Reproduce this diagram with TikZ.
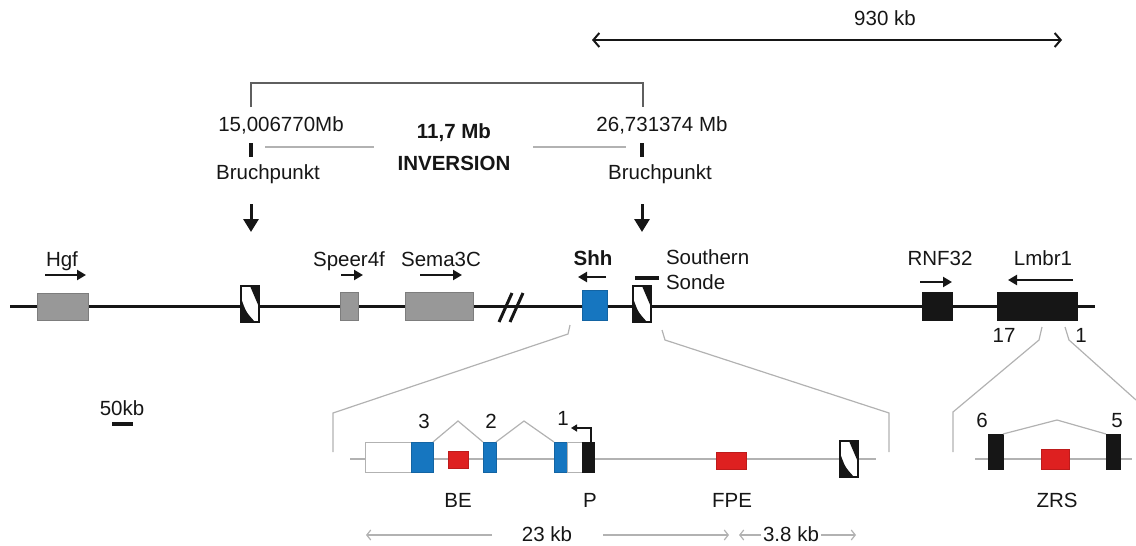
\documentclass[tikz,border=0pt]{standalone}
\usepackage{fontspec}
\setmainfont{Liberation Sans}
\usetikzlibrary{arrows.meta}
\definecolor{gbox}{RGB}{152,152,152}
\definecolor{gboxd}{RGB}{125,125,125}
\definecolor{shhblue}{RGB}{22,118,192}
\definecolor{enhred}{RGB}{222,32,32}
\definecolor{thin}{RGB}{178,178,178}
\definecolor{brkt}{RGB}{95,95,95}
\definecolor{blk}{RGB}{22,22,22}
\newcommand\brkbox[3]{%
  \begin{scope}[shift={(#2,#3)}]
    \node[anchor=north west, minimum width=18pt, minimum height=36pt, fill=white] (#1) at (0,0) {};
    \fill[blk] (9,0) -- (18,0) -- (18,21) .. controls (15,14) .. cycle;
    \fill[blk] (0,12) -- (0,36) -- (14,36) .. controls (5,26) .. cycle;
    \draw[blk, line width=1.3pt] (0,0) rectangle (18,36);
  \end{scope}}
\begin{document}
\begin{tikzpicture}[x=1pt,y=-1pt,
  every node/.style={inner sep=0pt,outer sep=0pt},
  lbl/.style={font=\fontsize{20.5}{24}\selectfont, anchor=base, text=blk},
  blbl/.style={font=\fontsize{20.5}{24}\selectfont\bfseries, anchor=base, text=blk},
  track/.style={line width=3.5pt, draw=blk},
  graybox/.style={fill=gbox, draw=gboxd, line width=0.6pt, anchor=north west},
  blackbox/.style={fill=blk, draw=blk, line width=0.6pt, anchor=north west},
  bluebox/.style={fill=shhblue, draw=shhblue!85!black, line width=0.6pt, anchor=north west},
  redbox/.style={fill=enhred, draw=enhred!85!black, line width=0.6pt, anchor=north west},
  utrbox/.style={fill=white, draw=thin, line width=1pt, anchor=north west},
  genearrow/.style={line width=2.2pt, draw=blk, -{Triangle[length=9pt,width=10pt]}},
  downarrow/.style={line width=3pt, draw=blk, -{Triangle[length=13pt,width=15pt]}},
  thinline/.style={line width=1.2pt, draw=thin},
  dimarrow/.style={line width=1.2pt, draw=thin, -{Straight Barb[length=4pt,width=10pt]}},
]
\useasboundingbox (0,0) rectangle (1136,546);

% ---------- 930 kb ----------
\coordinate (k0) at (592,40);
\coordinate (k1) at (1062,40);
\draw[line width=2pt, draw=blk, {Straight Barb[length=6pt,width=14pt]}-{Straight Barb[length=6pt,width=14pt]}] (k0) -- (k1);
\node[lbl] (t930) at (885,25) {930 kb};

% ---------- inversion bracket ----------
\coordinate (b0) at (251,107);
\coordinate (b1) at (251,83);
\coordinate (b2) at (643,83);
\coordinate (b3) at (643,107);
\draw[line width=1.5pt, draw=brkt] (b0) -- (b1) -- (b2) -- (b3);
\node[lbl] (pos1) at (281,131) {15,006770Mb};
\node[lbl] (pos2) at (662,131) {26,731374 Mb};
\node[blbl] (size) at (454,138) {11,7 Mb};
\node[blbl] (inv) at (454,170) {INVERSION};
\coordinate (tk1a) at (251,143); \coordinate (tk1b) at (251,157);
\coordinate (tk2a) at (642,143); \coordinate (tk2b) at (642,157);
\draw[line width=4pt, draw=blk] (tk1a) -- (tk1b);
\draw[line width=4pt, draw=blk] (tk2a) -- (tk2b);
\coordinate (g1a) at (265,147); \coordinate (g1b) at (374,147);
\coordinate (g2a) at (533,147); \coordinate (g2b) at (626,147);
\draw[thinline] (g1a) -- (g1b);
\draw[thinline] (g2a) -- (g2b);
\node[lbl] (bp1) at (268,179) {Bruchpunkt};
\node[lbl] (bp2) at (660,179) {Bruchpunkt};
\coordinate (d1a) at (251,204); \coordinate (d1b) at (251,232);
\coordinate (d2a) at (642,204); \coordinate (d2b) at (642,232);
\draw[downarrow] (d1a) -- (d1b);
\draw[downarrow] (d2a) -- (d2b);

% ---------- main track ----------
\coordinate (L0) at (10,306.5);
\coordinate (L1) at (1095,306.5);
\draw[track] (L0) -- (L1);

\node[graybox, minimum width=51pt, minimum height=27pt] (hgf) at (37,293) {};
\node[graybox, minimum width=18pt, minimum height=28pt] (speer) at (340,292) {};
\node[graybox, minimum width=68pt, minimum height=28pt] (sema) at (405,292) {};
\node[bluebox, minimum width=25pt, minimum height=30pt] (shh) at (582,290) {};
\node[blackbox, minimum width=30pt, minimum height=28pt] (rnf) at (922,292) {};
\node[blackbox, minimum width=80pt, minimum height=28pt] (lmbr) at (997,292) {};
\brkbox{brk1}{241}{286}
\brkbox{brk2}{633}{286}

% break marks
\coordinate (s1a) at (499,322); \coordinate (s1b) at (512,293);
\coordinate (s2a) at (510,322); \coordinate (s2b) at (523,293);
\draw[line width=3pt, draw=blk] (s1a) -- (s1b);
\draw[line width=3pt, draw=blk] (s2a) -- (s2b);

% gene labels and directions
\node[lbl] (lhgf) at (62,266) {Hgf};
\coordinate (ah0) at (45,275); \coordinate (ah1) at (86,275);
\draw[genearrow] (ah0) -- (ah1);
\node[lbl] (lspeer) at (349,266) {Speer4f};
\coordinate (as0) at (341,275); \coordinate (as1) at (363,275);
\draw[genearrow] (as0) -- (as1);
\node[lbl] (lsema) at (441,266) {Sema3C};
\coordinate (am0) at (420,275); \coordinate (am1) at (462,275);
\draw[genearrow] (am0) -- (am1);
\node[blbl] (lshh) at (593,265) {Shh};
\coordinate (ash0) at (606,277); \coordinate (ash1) at (578,277);
\draw[genearrow] (ash0) -- (ash1);
\coordinate (so0) at (635,278); \coordinate (so1) at (659,278);
\draw[line width=4pt, draw=blk] (so0) -- (so1);
\node[lbl, anchor=base west] (lsouth) at (666,264) {Southern};
\node[lbl, anchor=base west] (lsonde) at (666,289) {Sonde};
\node[lbl] (lrnf) at (940,265) {RNF32};
\coordinate (ar0) at (920,282); \coordinate (ar1) at (952,282);
\draw[genearrow] (ar0) -- (ar1);
\node[lbl] (llmbr) at (1043,265) {Lmbr1};
\coordinate (al0) at (1073,280); \coordinate (al1) at (1008,280);
\draw[genearrow] (al0) -- (al1);
\node[lbl] (l17) at (1004,342) {17};
\node[lbl] (l1) at (1081,342) {1};

% scale bar
\node[lbl] (l50) at (122,415) {50kb};
\coordinate (sb0) at (112,424); \coordinate (sb1) at (133,424);
\draw[line width=4pt, draw=blk] (sb0) -- (sb1);

% ---------- zoom lines ----------
\coordinate (za1) at (570,325); \coordinate (za2) at (568,334);
\coordinate (za3) at (333,413); \coordinate (za4) at (333,452);
\draw[thinline] (za1) -- (za2) -- (za3) -- (za4);
\coordinate (zb1) at (662,330); \coordinate (zb2) at (665,340);
\coordinate (zb3) at (889,413); \coordinate (zb4) at (889,452);
\draw[thinline] (zb1) -- (zb2) -- (zb3) -- (zb4);
\coordinate (zc1) at (1042,327); \coordinate (zc2) at (1039,340);
\coordinate (zc3) at (953,412); \coordinate (zc4) at (953,452);
\draw[thinline] (zc1) -- (zc2) -- (zc3) -- (zc4);
\coordinate (zd1) at (1065,327); \coordinate (zd2) at (1069,340);
\coordinate (zd3) at (1136,400);
\draw[thinline] (zd1) -- (zd2) -- (zd3);

% ---------- Shh detail ----------
\coordinate (zs0) at (350,459); \coordinate (zs1) at (876,459);
\draw[thinline] (zs0) -- (zs1);
\node[utrbox, minimum width=46pt, minimum height=30pt] (utr3) at (365,442) {};
\node[bluebox, minimum width=22pt, minimum height=30pt] (ex3) at (411,442) {};
\node[redbox, minimum width=20pt, minimum height=17pt] (be) at (448,451) {};
\node[bluebox, minimum width=13pt, minimum height=30pt] (ex2) at (483,442) {};
\node[bluebox, minimum width=13.5pt, minimum height=30pt] (ex1) at (554,442) {};
\node[utrbox, minimum width=14.5pt, minimum height=30pt] (utr5) at (567.5,442) {};
\node[blackbox, minimum width=12.5pt, minimum height=30pt] (pbox) at (582,442) {};
\node[redbox, minimum width=30pt, minimum height=17pt] (fpe) at (716,452) {};
\brkbox{brk3}{840}{441}
\coordinate (ap1) at (458,421);
\coordinate (ap2) at (524,421);
\draw[thinline] (ex3.north east) -- (ap1) -- (ex2.north west);
\draw[thinline] (ex2.north east) -- (ap2) -- (ex1.north west);
\coordinate (tss0) at (591,442); \coordinate (tss1) at (591,428); \coordinate (tss2) at (571,428);
\draw[line width=2pt, draw=blk, -{Triangle[length=6pt,width=7pt]}] (tss0) -- (tss1) -- (tss2);
\node[lbl] (n3) at (424,428) {3};
\node[lbl] (n2) at (491,428) {2};
\node[lbl] (n1) at (563,425) {1};
\node[lbl] (lbe) at (458,507) {BE};
\node[lbl] (lp) at (590,507) {P};
\node[lbl] (lfpe) at (732,507) {FPE};

% dimension arrows
\node[lbl] (l23) at (547,541) {23 kb};
\coordinate (d23a) at (492,535); \coordinate (d23b) at (366,535);
\coordinate (d23c) at (603,535); \coordinate (d23d) at (729,535);
\draw[dimarrow] (d23a) -- (d23b);
\draw[dimarrow] (d23c) -- (d23d);
\node[lbl] (l38) at (791,541) {3.8 kb};
\coordinate (d38a) at (761,535); \coordinate (d38b) at (739,535);
\coordinate (d38c) at (821,535); \coordinate (d38d) at (856,535);
\draw[dimarrow] (d38a) -- (d38b);
\draw[dimarrow] (d38c) -- (d38d);

% ---------- ZRS detail ----------
\coordinate (zr0) at (975,459); \coordinate (zr1) at (1132,459);
\draw[thinline] (zr0) -- (zr1);
\node[blackbox, minimum width=15pt, minimum height=35pt] (ex6) at (988,434) {};
\node[redbox, minimum width=28pt, minimum height=20pt] (zrs) at (1041,449) {};
\node[blackbox, minimum width=14pt, minimum height=35pt] (ex5) at (1106,434) {};
\coordinate (ap3) at (1057,420);
\draw[thinline] (ex6.north east) -- (ap3) -- (ex5.north west);
\node[lbl] (n6) at (982,427) {6};
\node[lbl] (n5) at (1117,427) {5};
\node[lbl] (lzrs) at (1057,507) {ZRS};
\end{tikzpicture}
\end{document}
